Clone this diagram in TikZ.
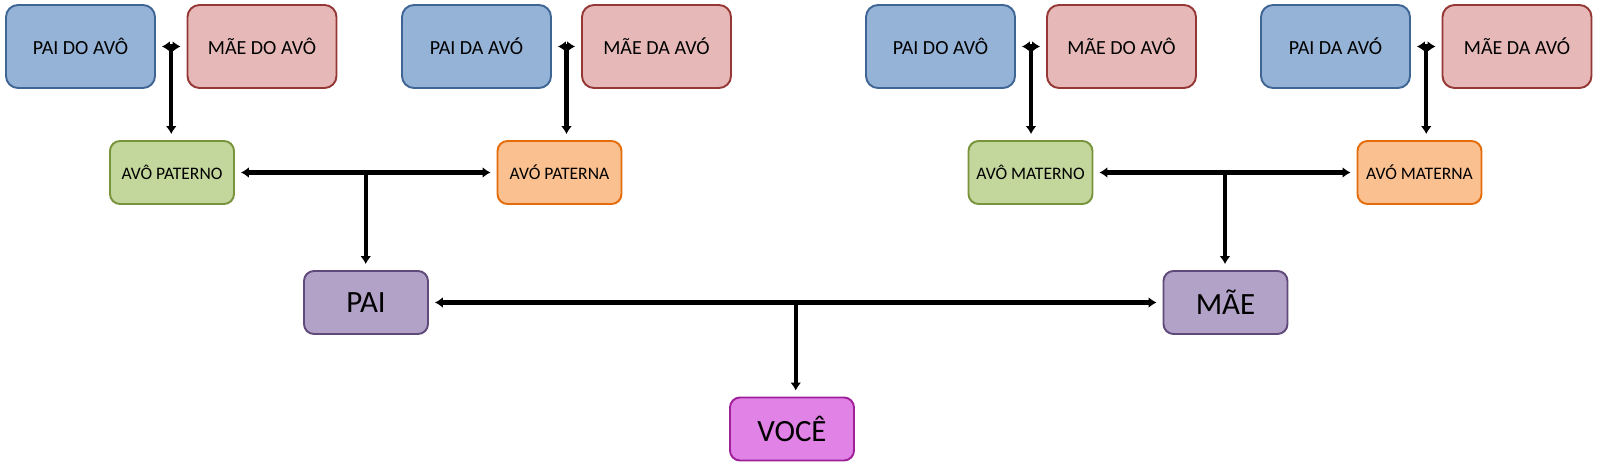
\documentclass[tikz,border=0pt]{standalone}
\usepackage{fontspec}
\setmainfont{Carlito}
\usepackage{tikz}
\usetikzlibrary{calc}
\usetikzlibrary{arrows.meta}

\definecolor{azulF}{HTML}{95B3D7}\definecolor{azulB}{HTML}{3F6594}
\definecolor{rosaF}{HTML}{E6B9B8}\definecolor{rosaB}{HTML}{953735}
\definecolor{verdeF}{HTML}{C3D69B}\definecolor{verdeB}{HTML}{77933C}
\definecolor{laranjaF}{HTML}{FAC090}\definecolor{laranjaB}{HTML}{E46C0A}
\definecolor{roxoF}{HTML}{B3A2C7}\definecolor{roxoB}{HTML}{604A7B}
\definecolor{vocF}{HTML}{E082E6}\definecolor{vocB}{HTML}{A0209A}

\tikzset{
    caixa/.style={draw, line width=1.1pt, rounded corners=0.24cm, align=center},
    bisavo/.style={caixa, minimum width=2.98cm, minimum height=1.66cm,
                   font=\fontsize{11.4}{13}\selectfont},
    avos/.style={caixa, minimum width=2.48cm, minimum height=1.26cm,
                 rounded corners=0.2cm, font=\fontsize{10}{12}\selectfont},
    pais/.style={caixa, minimum width=2.48cm, minimum height=1.26cm,
                 rounded corners=0.2cm, font=\fontsize{17.6}{20}\selectfont},
    liga/.style={line width=2.3pt, shorten <=0.12cm, shorten >=0.12cm},
}

\begin{document}
\begin{tikzpicture}[
        >={Latex[length=1.6mm,width=2.2mm]},
    ]
    \useasboundingbox (0cm, 0cm) rectangle (32cm, -9.44cm);

    % bisavos
    \node[bisavo, fill=azulF, draw=azulB] (pdl) at (1.61cm, -0.93cm) {PAI DO AVÔ};
    \node[bisavo, fill=rosaF, draw=rosaB] (mdl) at (5.24cm, -0.93cm) {MÃE DO AVÔ};
    \node[bisavo, fill=azulF, draw=azulB] (pal) at (9.53cm, -0.93cm) {PAI DA AVÓ};
    \node[bisavo, fill=rosaF, draw=rosaB] (mal) at (13.13cm, -0.93cm) {MÃE DA AVÓ};
    \node[bisavo, fill=azulF, draw=azulB] (pdr) at (18.81cm, -0.93cm) {PAI DO AVÔ};
    \node[bisavo, fill=rosaF, draw=rosaB] (mdr) at (22.43cm, -0.93cm) {MÃE DO AVÔ};
    \node[bisavo, fill=azulF, draw=azulB] (par) at (26.71cm, -0.93cm) {PAI DA AVÓ};
    \node[bisavo, fill=rosaF, draw=rosaB] (mar) at (30.34cm, -0.93cm) {MÃE DA AVÓ};

    % avos
    \node[avos, fill=verdeF, draw=verdeB] (avoP) at (3.44cm, -3.45cm) {AVÔ PATERNO};
    \node[avos, fill=laranjaF, draw=laranjaB] (avaP) at (11.19cm, -3.45cm) {AVÓ PATERNA};
    \node[avos, fill=verdeF, draw=verdeB] (avoM) at (20.61cm, -3.45cm) {AVÔ MATERNO};
    \node[avos, fill=laranjaF, draw=laranjaB] (avaM) at (28.39cm, -3.45cm) {AVÓ MATERNA};

    % pais e filho
    \node[pais, fill=roxoF, draw=roxoB] (pai) at (7.32cm, -6.05cm) {PAI};
    \node[pais, fill=roxoF, draw=roxoB] (mae) at (24.51cm, -6.05cm) {MÃE};
    \node[pais, fill=vocF, draw=vocB] (voce) at (15.84cm, -8.58cm) {VOCÊ};

    \foreach \a/\b/\c in {pdl/mdl/avoP, pal/mal/avaP, pdr/mdr/avoM, par/mar/avaM,
                          avoP/avaP/pai, avoM/avaM/mae, pai/mae/voce} {
        \draw[liga, <->] (\a.east) -- (\b.west);
        \coordinate (m\a) at ($(\a.east)!0.5!(\b.west)$);
        \draw[liga, shorten <=0cm, ->] (m\a) -- (m\a |- \c.north);
    }

\end{tikzpicture}
\end{document}
